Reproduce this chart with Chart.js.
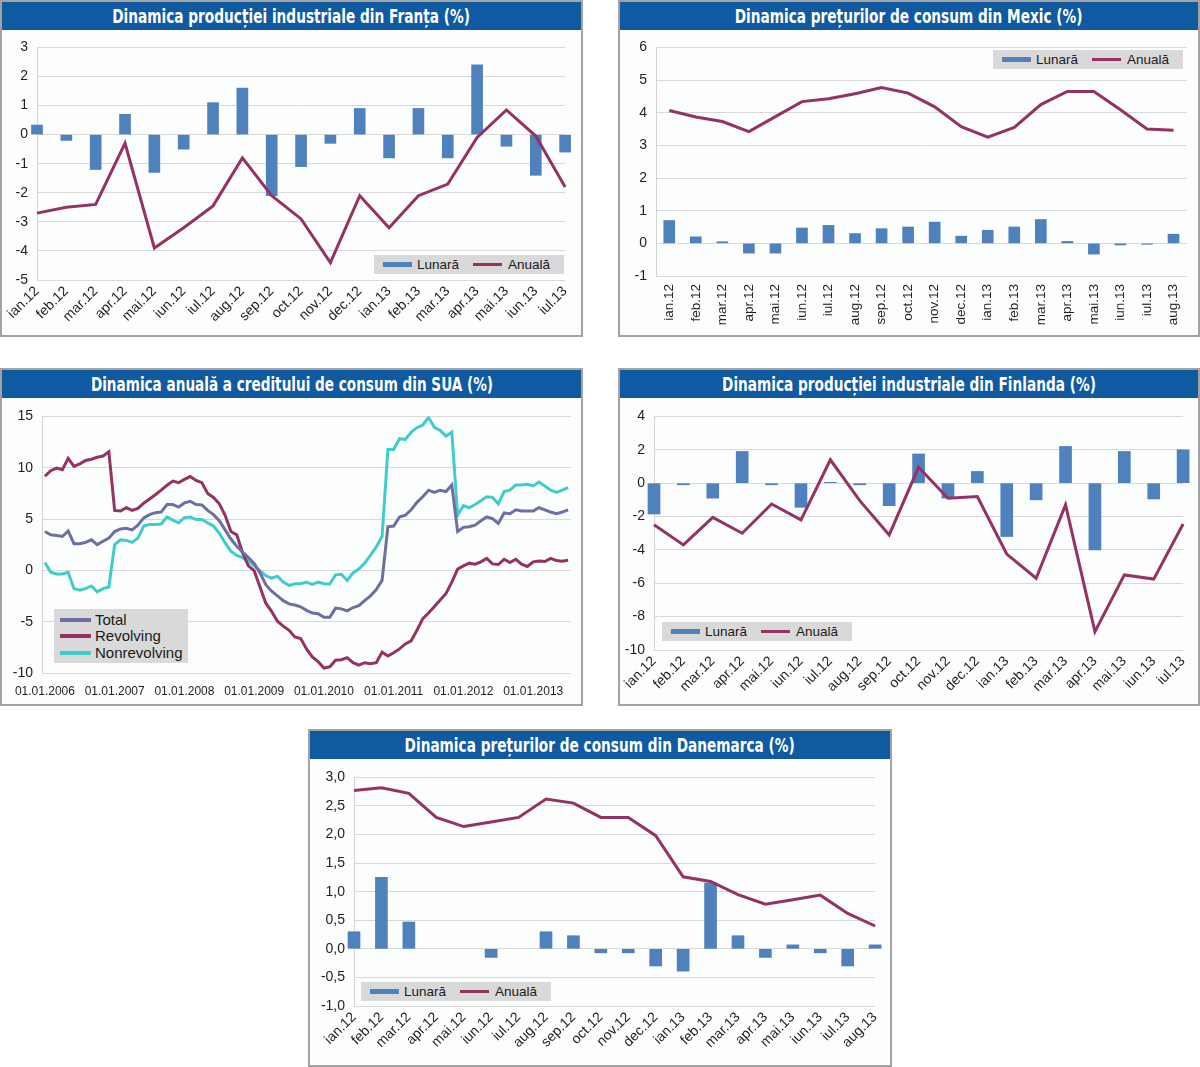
<!DOCTYPE html>
<html lang="ro">
<head>
<meta charset="utf-8">
<title>Grafice</title>
<script src="https://cdn.jsdelivr.net/npm/chart.js@4.4.1/dist/chart.umd.min.js"></script>
<style>
html,body{margin:0;padding:0;background:#ffffff;}
body{position:relative;width:1200px;height:1067px;overflow:hidden;font-family:"Liberation Sans",Arial,sans-serif;}
.panel{position:absolute;box-sizing:border-box;border:2px solid #a3a3a3;background:#fcfdfd;}
.title{position:absolute;left:0;right:0;top:0;height:28px;background:#0f5aa0;text-align:center;white-space:nowrap;overflow:hidden;}
.title span{display:inline-block;color:#fff;font-family:"DejaVu Sans Condensed","DejaVu Sans",sans-serif;font-weight:bold;font-size:20px;line-height:28px;transform-origin:50% 50%;}
canvas{position:absolute;}
.legend{position:absolute;background:#d9d9d9;color:#1a1a1a;font-size:13.5px;font-family:"Liberation Sans",Arial,sans-serif;}
.legend .sw{position:absolute;}
.legend .tx{position:absolute;white-space:nowrap;line-height:1;}
</style>
</head>
<body>

<div class="panel" id="pFR" style="left:0;top:0;width:583px;height:337px;"><div class="title"><span>Dinamica producției industriale din Franța (%)</span></div></div>
<div class="panel" id="pMX" style="left:618px;top:0;width:582px;height:337px;"><div class="title"><span>Dinamica prețurilor de consum din Mexic (%)</span></div></div>
<div class="panel" id="pUS" style="left:0;top:368px;width:583px;height:338px;"><div class="title"><span>Dinamica anuală a creditului de consum din SUA (%)</span></div></div>
<div class="panel" id="pFI" style="left:618px;top:368px;width:582px;height:338px;"><div class="title"><span>Dinamica producției industriale din Finlanda (%)</span></div></div>
<div class="panel" id="pDK" style="left:308px;top:729px;width:584px;height:338px;"><div class="title"><span>Dinamica prețurilor de consum din Danemarca (%)</span></div></div>

<canvas id="cFR" width="579" height="305" style="left:1px;top:30px;"></canvas>
<canvas id="cMX" width="578" height="305" style="left:620px;top:30px;"></canvas>
<canvas id="cUS" width="579" height="305" style="left:1px;top:399px;"></canvas>
<canvas id="cFI" width="578" height="305" style="left:620px;top:399px;"></canvas>
<canvas id="cDK" width="580" height="305" style="left:310px;top:760px;"></canvas>

<script>
// ---------------- DATA ----------------
const FR_MONTHS = ['ian.12','feb.12','mar.12','apr.12','mai.12','iun.12','iul.12','aug.12','sep.12','oct.12','nov.12','dec.12','ian.13','feb.13','mar.13','apr.13','mai.13','iun.13','iul.13'];
const FR_MONTHLY = [0.33,-0.2,-1.2,0.7,-1.3,-0.5,1.1,1.6,-2.1,-1.1,-0.3,0.9,-0.8,0.9,-0.8,2.4,-0.4,-1.4,-0.6];
const FR_ANNUAL  = [-2.7,-2.5,-2.4,-0.3,-3.9,-3.2,-2.45,-0.8,-2.1,-2.9,-4.4,-2.1,-3.2,-2.1,-1.7,-0.1,0.85,-0.05,-1.8];

const MX_MONTHS = ['ian.12','feb.12','mar.12','apr.12','mai.12','iun.12','iul.12','aug.12','sep.12','oct.12','nov.12','dec.12','ian.13','feb.13','mar.13','apr.13','mai.13','iun.13','iul.13','aug.13'];
const MX_MONTHLY = [0.70,0.2,0.05,-0.3,-0.3,0.47,0.55,0.3,0.45,0.5,0.65,0.22,0.4,0.5,0.73,0.06,-0.33,-0.05,-0.03,0.28];
const MX_ANNUAL  = [4.07,3.87,3.73,3.42,3.88,4.34,4.43,4.58,4.77,4.6,4.18,3.57,3.25,3.55,4.25,4.65,4.65,4.09,3.5,3.46];

const US_YEAR_TICKS = ['01.01.2006','01.01.2007','01.01.2008','01.01.2009','01.01.2010','01.01.2011','01.01.2012','01.01.2013'];
const US_TOTAL = [
 3.78,3.46,3.4,3.3,3.84,2.6,2.6,2.73,2.98,2.51,2.83,3.14,
 3.78,4.03,4.1,3.94,4.41,5.11,5.43,5.62,5.68,6.41,6.41,6.16,
 6.57,6.73,6.41,6.38,5.84,5.43,4.83,3.94,3.05,2.35,1.78,1.24,
 0.67,-0.25,-1.4,-2.03,-2.48,-2.95,-3.27,-3.37,-3.55,-3.9,-4.16,-4.22,
 -4.57,-4.57,-3.68,-3.75,-3.94,-3.62,-3.43,-2.95,-2.48,-1.87,-0.98,4.25,
 4.32,5.2,5.37,5.9,6.63,7.17,7.81,7.59,7.81,7.68,8.32,3.78,
 4.19,4.25,4.41,4.83,5.2,5.05,4.57,5.59,5.52,5.9,5.78,5.78,
 5.78,6.1,5.9,5.68,5.52,5.68,5.9];
const US_REVOLVING = [
 9.17,9.71,9.97,9.81,10.92,10.13,10.38,10.7,10.83,11.02,11.14,11.56,
 5.84,5.78,6.1,5.84,6.03,6.54,6.95,7.37,7.81,8.29,8.7,8.54,
 8.86,9.14,8.76,8.54,7.49,7.11,6.48,5.37,3.78,3.46,1.71,0.44,
 -0.03,-1.62,-3.2,-4.0,-4.95,-5.43,-5.84,-6.48,-6.65,-7.65,-8.44,-8.9,
 -9.52,-9.4,-8.76,-8.7,-8.5,-9.0,-9.24,-9.0,-9.1,-9.0,-7.97,-8.35,
 -8.03,-7.65,-7.17,-6.86,-5.84,-4.7,-4.16,-3.52,-2.89,-2.25,-1.14,0.13,
 0.44,0.7,0.6,0.83,1.17,0.63,0.57,1.08,0.76,1.08,0.6,0.38,
 0.83,0.92,0.86,1.17,0.95,0.89,0.98];
const US_NONREVOLVING = [
 0.76,-0.19,-0.35,-0.35,-0.19,-1.78,-1.94,-1.78,-1.52,-2.1,-1.78,-1.62,
 2.51,2.98,2.92,2.73,3.14,4.32,4.48,4.48,4.51,5.2,4.89,4.63,
 5.14,5.2,4.95,4.95,4.63,4.32,3.62,2.67,1.87,1.46,1.24,0.92,
 0.44,-0.03,-0.51,-0.76,-0.57,-1.14,-1.46,-1.3,-1.3,-1.14,-1.37,-1.14,
 -1.3,-1.33,-0.44,-0.38,-0.98,-0.25,0.13,0.7,1.46,2.29,3.3,11.78,
 11.78,12.83,12.76,13.46,13.9,14.16,14.89,13.94,13.62,13.08,13.46,5.37,
 6.32,6.1,6.41,6.79,7.17,7.11,6.48,7.68,7.81,8.32,8.32,8.38,
 8.22,8.6,8.22,7.81,7.59,7.81,8.06];

const FI_MONTHS = ['ian.12','feb.12','mar.12','apr.12','mai.12','iun.12','iul.12','aug.12','sep.12','oct.12','nov.12','dec.12','ian.13','feb.13','mar.13','apr.13','mai.13','iun.13','iul.13'];
const FI_MONTHLY = [-1.85,-0.1,-0.9,1.9,-0.1,-1.45,0.05,-0.1,-1.35,1.75,-0.9,0.7,-3.2,-1.0,2.2,-4.0,1.9,-0.95,2.0];
const FI_ANNUAL  = [-2.5,-3.7,-2.05,-3.0,-1.25,-2.2,1.4,-1.05,-3.1,0.95,-0.9,-0.8,-4.25,-5.7,-1.3,-8.9,-5.5,-5.75,-2.45];

const DK_MONTHS = ['ian.12','feb.12','mar.12','apr.12','mai.12','iun.12','iul.12','aug.12','sep.12','oct.12','nov.12','dec.12','ian.13','feb.13','mar.13','apr.13','mai.13','iun.13','iul.13','aug.13'];
const DK_MONTHLY = [0.3,1.25,0.47,0,0,-0.15,0,0.3,0.23,-0.07,-0.07,-0.3,-0.39,1.15,0.23,-0.15,0.07,-0.07,-0.3,0.07];
const DK_ANNUAL  = [2.77,2.82,2.72,2.3,2.14,2.22,2.3,2.62,2.55,2.3,2.3,1.98,1.26,1.18,0.95,0.78,0.86,0.94,0.62,0.4];

const LBL_MONTHLY = 'Lunară';
const LBL_ANNUAL = 'Anuală';

// ---------------- STYLE ----------------
const C_BAR = '#4f81bd';
const C_LINE = '#953264';
const C_TOTAL = '#6e6ea2';
const C_NONREV = '#3fcccc';
const TICK_COLOR = '#1e1e1e';
const GRID = '#d9d9d9';
const FONT = 'Liberation Sans, Arial, sans-serif';

// US category labels (first day of each month), built from the series length
const US_START = 2006;
const US_LABELS = US_TOTAL.map((_, i) => '01.' + String(i % 12 + 1).padStart(2, '0') + '.' + (US_START + Math.floor(i / 12)));

function yScale(min, max, step, width, fmt) {
  return {
    min, max,
    ticks: { stepSize: step, font: { family: FONT, size: 14 }, color: TICK_COLOR, padding: 9, callback: fmt || (v => String(v)) },
    grid: { color: GRID, drawTicks: false, lineWidth: 1 },
    border: { display: true, color: '#d4d4d4' },
    afterFit: s => { s.width = width; }
  };
}
function xScale(height, rot, offset, pad, size) {
  return {
    offset,
    grid: { display: false, drawTicks: false },
    border: { display: false },
    ticks: { font: { family: FONT, size: size }, color: TICK_COLOR, minRotation: rot, maxRotation: rot, autoSkip: false, padding: pad },
    afterFit: s => { s.height = height; }
  };
}
function baseOptions(padTop, padRight, x, y) {
  return {
    responsive: false, animation: false, devicePixelRatio: 1,
    layout: { padding: { top: padTop, right: padRight, left: 0, bottom: 0 } },
    plugins: { legend: { display: false }, tooltip: { enabled: false } },
    scales: { x, y }
  };
}
function barLine(labels, monthly, annual, barW) {
  return {
    labels,
    datasets: [
      { type: 'line', label: LBL_ANNUAL, data: annual, borderColor: C_LINE, borderWidth: 3, pointRadius: 0, tension: 0, fill: false, order: 0, clip: false },
      { type: 'bar', label: LBL_MONTHLY, data: monthly, backgroundColor: ctx => (ctx.raw === 0 ? 'rgba(0,0,0,0)' : C_BAR), barThickness: barW, order: 1, clip: false }
    ]
  };
}

// France
new Chart(document.getElementById('cFR'), {
  type: 'bar',
  data: barLine(FR_MONTHS, FR_MONTHLY, FR_ANNUAL, 11),
  options: baseOptions(10, 12, xScale(55, 45, false, 3, 14), yScale(-5, 3, 1, 36))
});
// Mexico
new Chart(document.getElementById('cMX'), {
  type: 'bar',
  data: barLine(MX_MONTHS, MX_MONTHLY, MX_ANNUAL, 11),
  options: baseOptions(13, 11, xScale(59, 90, true, 8, 13.5), yScale(-1, 6, 1, 36))
});
// USA
const usX = xScale(31, 0, true, 11, 12);
usX.ticks.callback = function(v, i) { const l = US_LABELS[i]; return l.startsWith('01.01.') ? l : null; };
new Chart(document.getElementById('cUS'), {
  type: 'line',
  data: {
    labels: US_LABELS,
    datasets: [
      { label: 'Total', data: US_TOTAL, borderColor: C_TOTAL, borderWidth: 3, pointRadius: 0, tension: 0 },
      { label: 'Revolving', data: US_REVOLVING, borderColor: C_LINE, borderWidth: 3, pointRadius: 0, tension: 0 },
      { label: 'Nonrevolving', data: US_NONREVOLVING, borderColor: C_NONREV, borderWidth: 3, pointRadius: 0, tension: 0 }
    ]
  },
  options: baseOptions(11, 9, usX, yScale(-10, 15, 5, 41))
});
// Finland
new Chart(document.getElementById('cFI'), {
  type: 'bar',
  data: barLine(FI_MONTHS, FI_MONTHLY, FI_ANNUAL, 12),
  options: baseOptions(12, 11, xScale(54, 45, false, 3, 14), yScale(-10, 4, 2, 34))
});
// Denmark
new Chart(document.getElementById('cDK'), {
  type: 'bar',
  data: barLine(DK_MONTHS, DK_MONTHLY, DK_ANNUAL, 12),
  options: baseOptions(12, 11, xScale(59, 45, false, 3, 14), yScale(-1, 3, 0.5, 44, v => Number(v).toFixed(1).replace('.', ',')))
});

// ---------------- TITLES ----------------
[['pFR', 358], ['pMX', 348], ['pUS', 402], ['pFI', 374], ['pDK', 390]].forEach(([id, w]) => {
  const s = document.querySelector('#' + id + ' .title span');
  const cw = s.getBoundingClientRect().width;
  s.style.transform = 'scaleX(' + (w / cw).toFixed(3) + ')';
});

// ---------------- LEGENDS ----------------
function legendBox(left, top, width, height) {
  const b = document.createElement('div');
  b.className = 'legend';
  Object.assign(b.style, { left: left + 'px', top: top + 'px', width: width + 'px', height: height + 'px' });
  document.body.appendChild(b);
  return b;
}
function legendItem(box, sx, sy, sw, sh, color, tx, ty, text, fs) {
  const s = document.createElement('div');
  s.className = 'sw';
  Object.assign(s.style, { left: sx + 'px', top: sy + 'px', width: sw + 'px', height: sh + 'px', background: color });
  box.appendChild(s);
  const t = document.createElement('div');
  t.className = 'tx';
  t.textContent = text;
  Object.assign(t.style, { left: tx + 'px', top: ty + 'px' });
  if (fs) t.style.fontSize = fs + 'px';
  box.appendChild(t);
}
function twoItemLegend(left, top) {
  const b = legendBox(left, top, 190, 19);
  legendItem(b, 9, 7, 29, 5, C_BAR, 43, 3, LBL_MONTHLY);
  legendItem(b, 99, 8, 29, 3, C_LINE, 134, 3, LBL_ANNUAL);
}
twoItemLegend(374, 255);
twoItemLegend(993, 50);
twoItemLegend(662, 622);
twoItemLegend(361, 982);
(function(){
  const b = legendBox(54, 609, 134, 54);
  legendItem(b, 6, 9, 31, 4, C_TOTAL, 41, 3, 'Total', 15);
  legendItem(b, 6, 25, 31, 4, C_LINE, 41, 19, 'Revolving', 15);
  legendItem(b, 6, 42, 31, 4, C_NONREV, 41, 36, 'Nonrevolving', 15);
})();
</script>
</body>
</html>
